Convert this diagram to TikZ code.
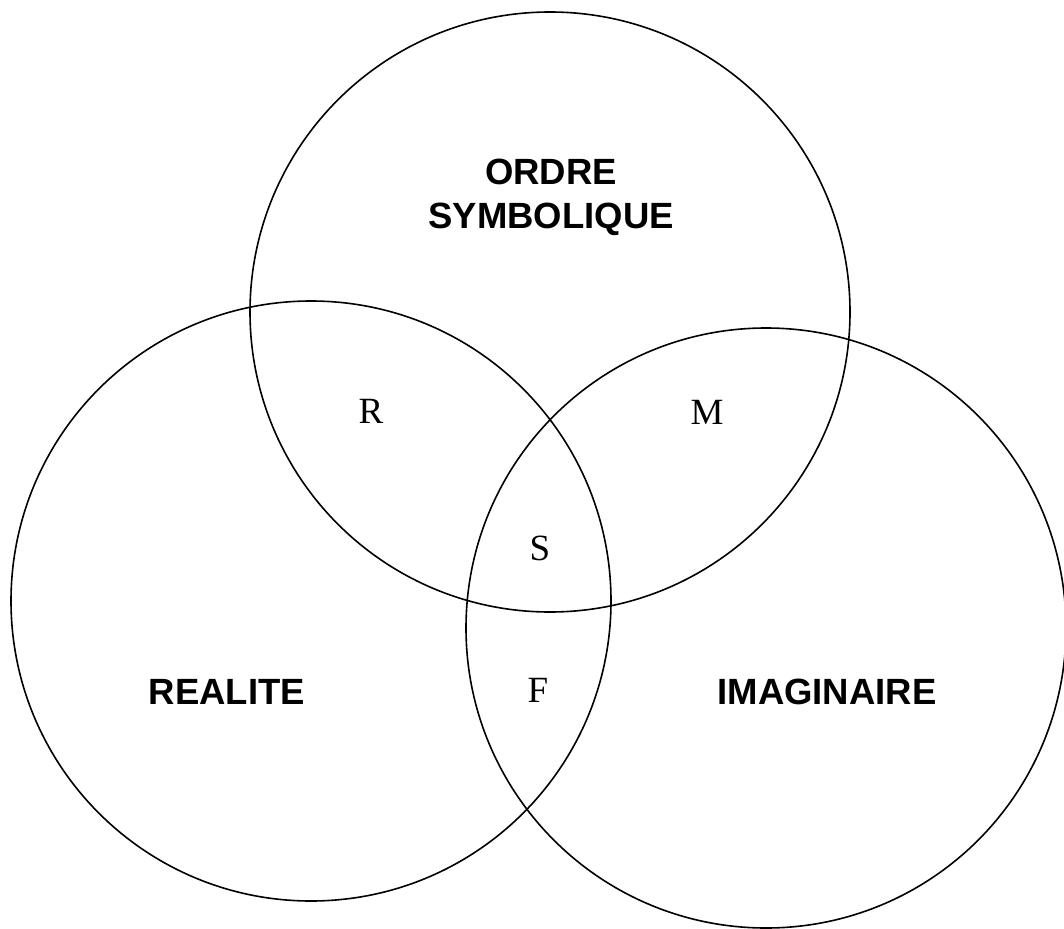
\documentclass[tikz,border=0pt]{standalone}
\usepackage{fontspec}
\setmainfont{Liberation Serif}
\newfontfamily\labelfont{Liberation Sans}
\usepackage{tikz}

\begin{document}
\begin{tikzpicture}
	[x=1pt,y=-1pt,line width=1.6pt,
	every node/.style={inner sep=0pt},
	zone/.style={font=\labelfont\bfseries\fontsize{36.5}{44}\selectfont,align=center},
	part/.style={font=\fontsize{37}{44}\selectfont}]
	\useasboundingbox (0,0) rectangle (1064,928);

	\coordinate (cs) at (550,312);
	\coordinate (cr) at (311,601);
	\coordinate (ci) at (766,628);

	\foreach \c in {cs,cr,ci}
	\draw (\c) circle (300);

	\node[zone] (sym) at (551,197) {ORDRE\\SYMBOLIQUE};
	\node[zone] (rea) at (227,692) {REALITE};
	\node[zone] (ima) at (827,692) {IMAGINAIRE};

	\node[part] (r) at (371,411) {R};
	\node[part] (m) at (707,412) {M};
	\node[part] (s) at (540,548) {S};
	\node[part] (f) at (538,690) {F};
\end{tikzpicture}
\end{document}
